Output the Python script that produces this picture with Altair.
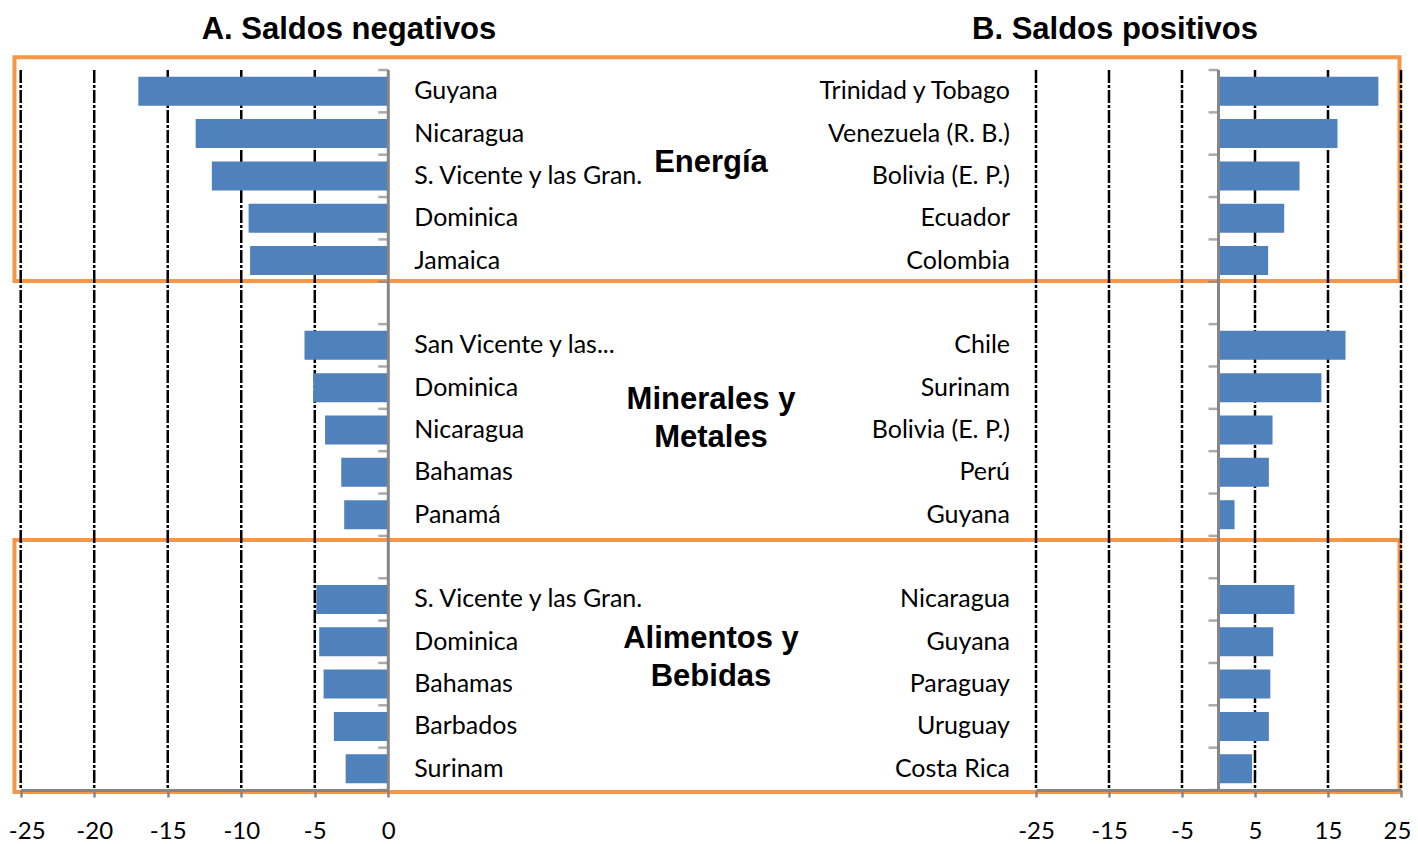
import altair as alt
import pandas as pd

# ---------------- data ----------------
neg_countries = ["Guyana", "Nicaragua", "S. Vicente y las Gran.", "Dominica", "Jamaica",
                 "San Vicente y las...", "Dominica", "Nicaragua", "Bahamas", "Panamá",
                 "S. Vicente y las Gran.", "Dominica", "Bahamas", "Barbados", "Surinam"]
neg_values = [-17.0, -13.1, -12.0, -9.5, -9.4,
              -5.7, -5.1, -4.3, -3.2, -3.0,
              -4.9, -4.7, -4.4, -3.7, -2.9]
pos_countries = ["Trinidad y Tobago", "Venezuela (R. B.)", "Bolivia (E. P.)", "Ecuador", "Colombia",
                 "Chile", "Surinam", "Bolivia (E. P.)", "Perú", "Guyana",
                 "Nicaragua", "Guyana", "Paraguay", "Uruguay", "Costa Rica"]
pos_values = [21.9, 16.3, 11.1, 9.0, 6.8,
              17.4, 14.1, 7.4, 6.9, 2.2,
              10.4, 7.5, 7.1, 6.9, 4.6]
rows = [0, 1, 2, 3, 4, 6, 7, 8, 9, 10, 12, 13, 14, 15, 16]

group_labels = ["Energía", "Minerales y\nMetales", "Alimentos y\nBebidas"]
group_rows = [1.70, 7.29, 12.93]   # row position of each label's first line
panel_titles = ["A. Saldos negativos", "B. Saldos positivos"]

neg_ticks = [-25, -20, -15, -10, -5, 0]
pos_ticks = [-25, -15, -5, 5, 15, 25]
neg_grid = [-25, -20, -15, -10, -5]
pos_grid = [-25, -15, -5, 5, 15, 25]
row_edges = [-0.5, 0.5, 1.5, 2.5, 3.5, 4.5, 5.5, 6.5, 7.5, 8.5,
             9.5, 10.5, 11.5, 12.5, 13.5, 14.5, 15.5, 16.5]
frame_top = [-0.8, 10.6]
frame_bottom = [4.48, 16.55]

# ---------------- style ----------------
BLUE = "#4F81BD"
ORANGE = "#F79646"
GRAY = "#868686"
LABEL_FONT = "Lato"
BOLD_FONT = "Liberation Sans"
W, H = 1402, 782
title_x = [341, 1107]
group_x = 703

yscale = alt.Scale(domain=[-0.5, 16.5], range=[62, 782], zero=False, nice=False, padding=0)
lscale = alt.Scale(domain=[-25, 0], range=[12.7, 380.3], zero=False, nice=False, padding=0)
rscale = alt.Scale(domain=[-25, 25], range=[1028, 1393], zero=False, nice=False, padding=0)


def make_axis(vals, edge_value, edge_shift):
    return alt.Axis(values=vals, orient="bottom", grid=False, domainColor=GRAY,
                    domainWidth=3, tickColor=GRAY, tickWidth=2.5, tickSize=7,
                    labelFont=LABEL_FONT, labelFontSize=24, labelColor="black",
                    labelPadding=22, title=None, labelFlush=False, labelOverlap=False,
                    labelExpr="datum.value + ''", zindex=1,
                    labelOffset={"condition": {"test": f"datum.value == {edge_value}",
                                               "value": edge_shift},
                                 "value": 0})


laxis = make_axis(neg_ticks, -25, 6)
raxis = make_axis(pos_ticks, 25, -4)


def panel(countries, values, grid_vals, scale, axis, label_anchor, label_align, label_dx):
    df = pd.DataFrame({"pais": countries, "valor": values, "fila": rows})
    grid = alt.Chart(pd.DataFrame({"t": grid_vals})).mark_rule(
        color="black", strokeWidth=2.5, strokeDash=[13, 2, 3, 2]
    ).encode(
        x=alt.X("t:Q", scale=scale, axis=axis),
        y=alt.YDatum(-0.5, scale=yscale, axis=None),
        y2=alt.Y2Datum(16.5),
    )
    bars = alt.Chart(df).mark_bar(color=BLUE, size=29).encode(
        x=alt.X("valor:Q", scale=scale, axis=axis),
        x2=alt.X2Datum(0),
        y=alt.Y("fila:Q", scale=yscale, axis=None),
    )
    zero = alt.Chart(pd.DataFrame({"z": [0]})).mark_rule(color=GRAY, strokeWidth=3).encode(
        x=alt.X("z:Q", scale=scale, axis=axis),
        y=alt.YDatum(-0.5, scale=yscale, axis=None),
        y2=alt.Y2Datum(16.5),
    )
    ticks = alt.Chart(pd.DataFrame({"b": row_edges, "z": 0})).mark_tick(
        orient="horizontal", size=10, thickness=2.5, color=GRAY, xOffset=-5
    ).encode(
        x=alt.X("z:Q", scale=scale, axis=axis),
        y=alt.Y("b:Q", scale=yscale, axis=None),
    )
    labels = alt.Chart(df).mark_text(
        align=label_align, baseline="middle", dx=label_dx, font=LABEL_FONT,
        fontSize=25, color="black"
    ).encode(
        x=alt.XDatum(label_anchor, scale=scale, axis=axis),
        y=alt.Y("fila:Q", scale=yscale, axis=None),
        text="pais:N",
    )
    return alt.layer(grid, bars, zero, ticks, labels)


left = panel(neg_countries, neg_values, neg_grid, lscale, laxis, 0, "left", 26)
right = panel(pos_countries, pos_values, pos_grid, rscale, raxis, -25, "right", -26)

frames = alt.Chart(pd.DataFrame({"top": frame_top, "bottom": frame_bottom})).mark_rect(
    filled=False, color=ORANGE, strokeWidth=4
).encode(
    x=alt.value(6.5),
    x2=alt.value(1391.5),
    y=alt.Y("top:Q", scale=yscale, axis=None),
    y2="bottom:Q",
)

groups = alt.Chart(pd.DataFrame({"g": group_labels, "r": group_rows})).mark_text(
    font=BOLD_FONT, fontWeight="bold", fontSize=31, lineBreak="\n", lineHeight=38,
    align="center", baseline="middle", color="black"
).encode(
    x=alt.value(group_x),
    y=alt.Y("r:Q", scale=yscale, axis=None),
    text="g:N",
)

titles = []
for t, tx in zip(panel_titles, title_x):
    titles.append(
        alt.Chart(pd.DataFrame({"t": [t]})).mark_text(
            font=BOLD_FONT, fontWeight="bold", fontSize=31, align="center",
            baseline="middle", color="black"
        ).encode(x=alt.value(tx), y=alt.value(22), text="t:N")
    )

chart = alt.layer(frames, left, right, groups, *titles).resolve_scale(
    x="independent"
).properties(
    width=W, height=H,
    autosize=alt.AutoSizeParams(type="none"),
    padding={"left": 0, "top": 0, "right": 0, "bottom": 54},
).configure_view(stroke=None)

chart.save("out.html", embed_options={"renderer": "svg", "actions": False})
